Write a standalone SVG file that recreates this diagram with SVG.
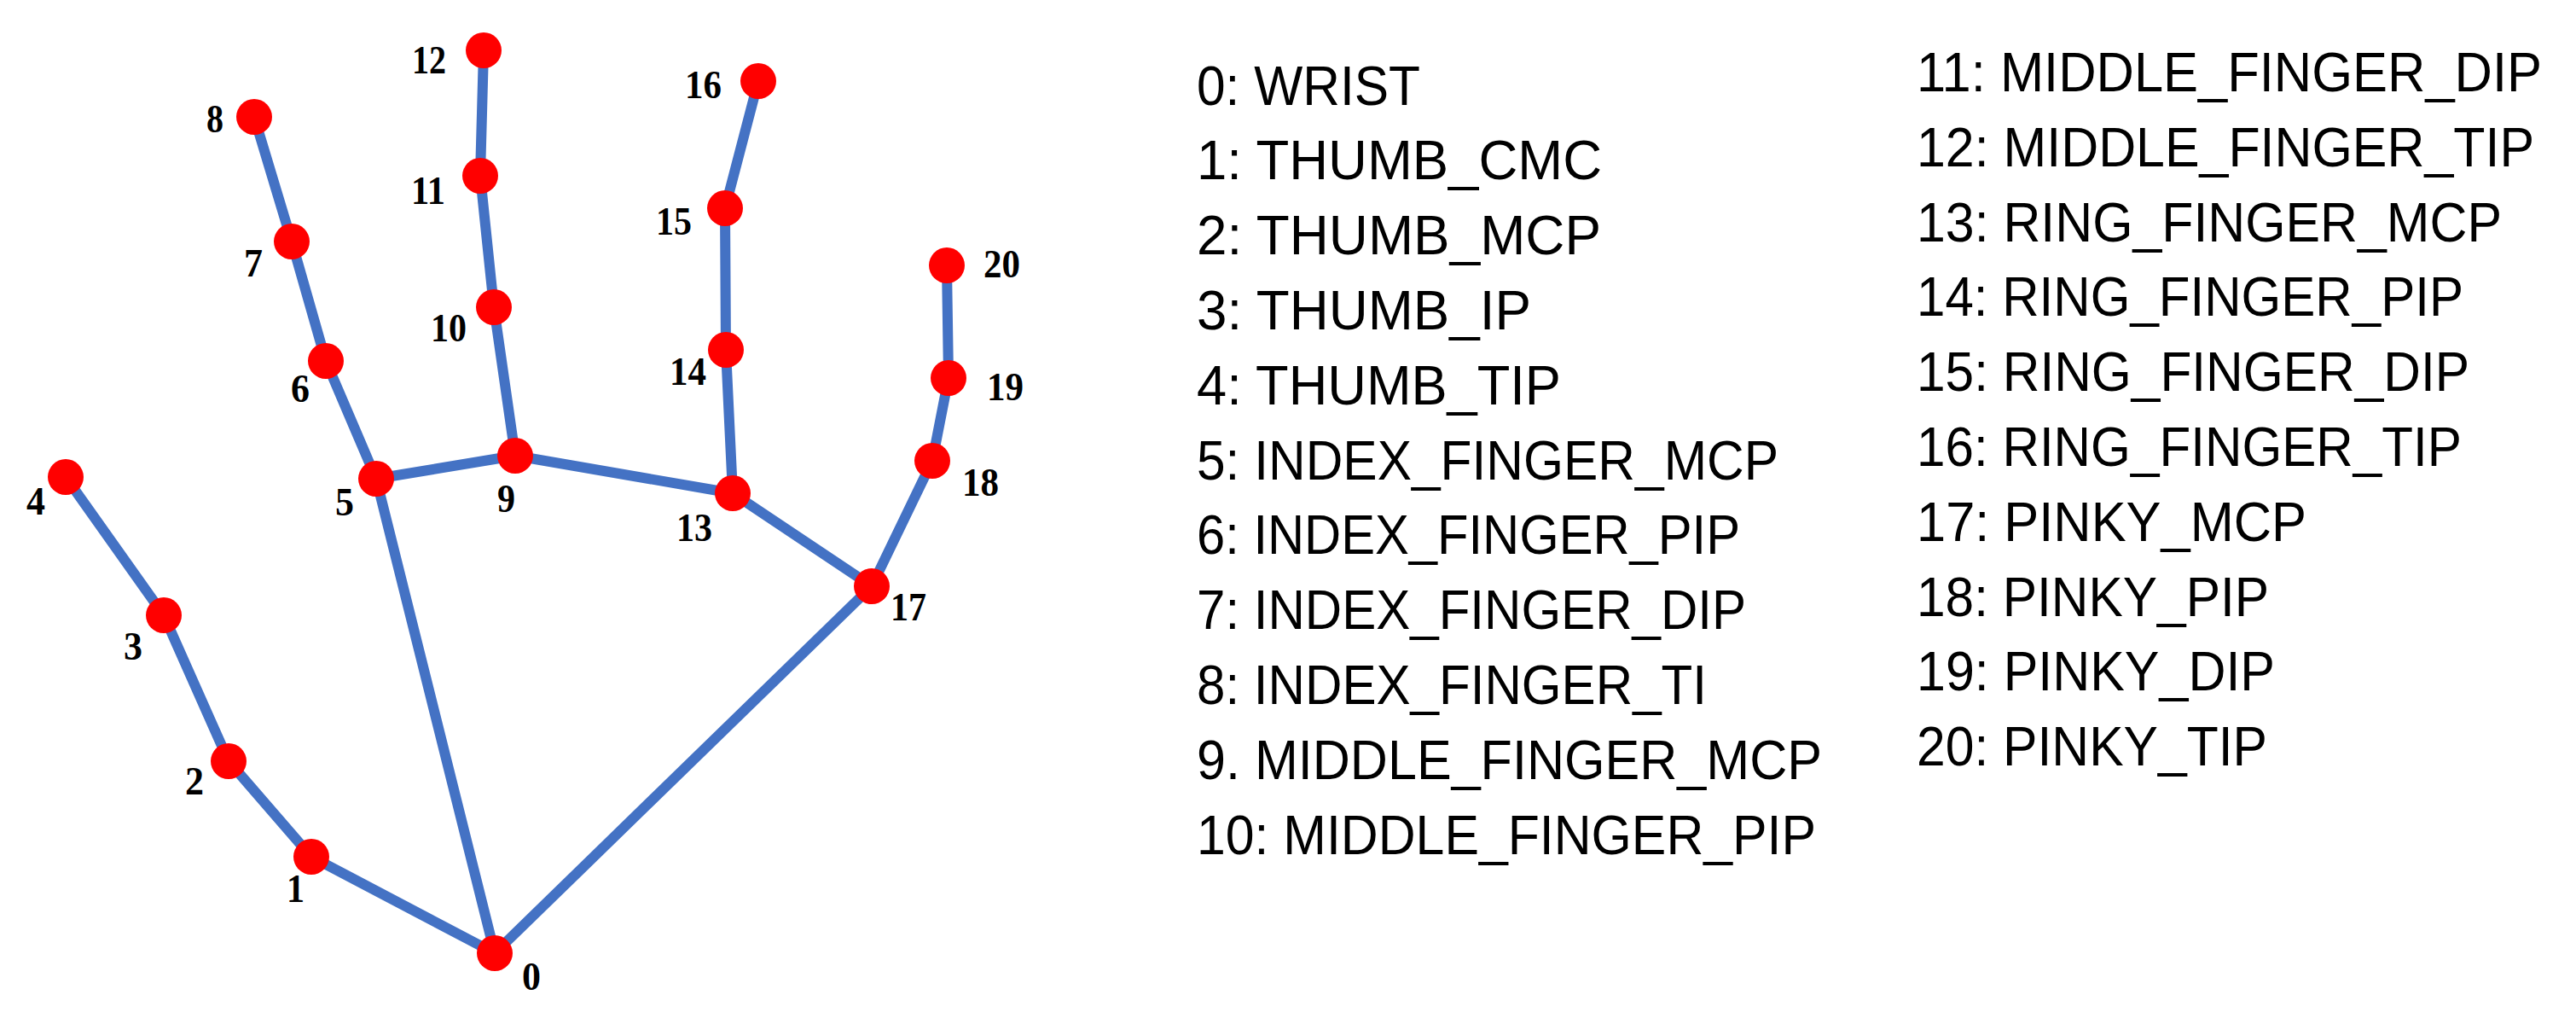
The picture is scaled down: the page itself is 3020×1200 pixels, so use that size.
<svg xmlns="http://www.w3.org/2000/svg" width="3020" height="1200" viewBox="0 0 3020 1200">
<style>
.edge{stroke:#4472C4;stroke-width:12;stroke-linecap:round;fill:none}
.pt{fill:#FF0000}
.num{font-family:"Liberation Serif","Times New Roman",serif;font-weight:bold;font-size:46px;fill:#000}
.leg{font-family:"Liberation Sans",Arial,sans-serif;font-size:65px;fill:#000}
</style>
<rect width="3020" height="1200" fill="#fff"/>
<g id="connectors">
<line class="edge" x1="580" y1="1117" x2="365" y2="1004"/>
<line class="edge" x1="365" y1="1004" x2="268" y2="892"/>
<line class="edge" x1="268" y1="892" x2="192" y2="721"/>
<line class="edge" x1="192" y1="721" x2="77" y2="559"/>
<line class="edge" x1="580" y1="1117" x2="441" y2="561"/>
<line class="edge" x1="441" y1="561" x2="382" y2="423"/>
<line class="edge" x1="382" y1="423" x2="342" y2="283"/>
<line class="edge" x1="342" y1="283" x2="298" y2="137"/>
<line class="edge" x1="441" y1="561" x2="604" y2="534"/>
<line class="edge" x1="604" y1="534" x2="579" y2="360"/>
<line class="edge" x1="579" y1="360" x2="563" y2="206"/>
<line class="edge" x1="563" y1="206" x2="567" y2="59"/>
<line class="edge" x1="604" y1="534" x2="859" y2="578"/>
<line class="edge" x1="859" y1="578" x2="851" y2="410"/>
<line class="edge" x1="851" y1="410" x2="850" y2="244"/>
<line class="edge" x1="850" y1="244" x2="889" y2="95"/>
<line class="edge" x1="859" y1="578" x2="1022" y2="687"/>
<line class="edge" x1="1022" y1="687" x2="1093" y2="540"/>
<line class="edge" x1="1093" y1="540" x2="1112" y2="443"/>
<line class="edge" x1="1112" y1="443" x2="1110" y2="311"/>
<line class="edge" x1="580" y1="1117" x2="1022" y2="687"/>
</g>
<g id="node-0"><circle class="pt" cx="580" cy="1117" r="21"/><text class="num" x="612" y="1160" textLength="22" lengthAdjust="spacingAndGlyphs">0</text></g>
<g id="node-1"><circle class="pt" cx="365" cy="1004" r="21"/><text class="num" x="336" y="1057" textLength="21" lengthAdjust="spacingAndGlyphs">1</text></g>
<g id="node-2"><circle class="pt" cx="268" cy="892" r="21"/><text class="num" x="217" y="931" textLength="22" lengthAdjust="spacingAndGlyphs">2</text></g>
<g id="node-3"><circle class="pt" cx="192" cy="721" r="21"/><text class="num" x="145" y="773" textLength="22" lengthAdjust="spacingAndGlyphs">3</text></g>
<g id="node-4"><circle class="pt" cx="77" cy="559" r="21"/><text class="num" x="31" y="603" textLength="22" lengthAdjust="spacingAndGlyphs">4</text></g>
<g id="node-5"><circle class="pt" cx="441" cy="561" r="21"/><text class="num" x="393" y="604" textLength="22" lengthAdjust="spacingAndGlyphs">5</text></g>
<g id="node-6"><circle class="pt" cx="382" cy="423" r="21"/><text class="num" x="341" y="471" textLength="22" lengthAdjust="spacingAndGlyphs">6</text></g>
<g id="node-7"><circle class="pt" cx="342" cy="283" r="21"/><text class="num" x="286" y="324" textLength="22" lengthAdjust="spacingAndGlyphs">7</text></g>
<g id="node-8"><circle class="pt" cx="298" cy="137" r="21"/><text class="num" x="242" y="155" textLength="20" lengthAdjust="spacingAndGlyphs">8</text></g>
<g id="node-9"><circle class="pt" cx="604" cy="534" r="21"/><text class="num" x="583" y="600" textLength="21" lengthAdjust="spacingAndGlyphs">9</text></g>
<g id="node-10"><circle class="pt" cx="579" cy="360" r="21"/><text class="num" x="505" y="400" textLength="42" lengthAdjust="spacingAndGlyphs">10</text></g>
<g id="node-11"><circle class="pt" cx="563" cy="206" r="21"/><text class="num" x="482" y="239" textLength="40" lengthAdjust="spacingAndGlyphs">11</text></g>
<g id="node-12"><circle class="pt" cx="567" cy="59" r="21"/><text class="num" x="483" y="86" textLength="40" lengthAdjust="spacingAndGlyphs">12</text></g>
<g id="node-13"><circle class="pt" cx="859" cy="578" r="21"/><text class="num" x="793" y="634" textLength="42" lengthAdjust="spacingAndGlyphs">13</text></g>
<g id="node-14"><circle class="pt" cx="851" cy="410" r="21"/><text class="num" x="785" y="451" textLength="43" lengthAdjust="spacingAndGlyphs">14</text></g>
<g id="node-15"><circle class="pt" cx="850" cy="244" r="21"/><text class="num" x="769" y="275" textLength="42" lengthAdjust="spacingAndGlyphs">15</text></g>
<g id="node-16"><circle class="pt" cx="889" cy="95" r="21"/><text class="num" x="803" y="115" textLength="43" lengthAdjust="spacingAndGlyphs">16</text></g>
<g id="node-17"><circle class="pt" cx="1022" cy="687" r="21"/><text class="num" x="1044" y="727" textLength="42" lengthAdjust="spacingAndGlyphs">17</text></g>
<g id="node-18"><circle class="pt" cx="1093" cy="540" r="21"/><text class="num" x="1128" y="581" textLength="43" lengthAdjust="spacingAndGlyphs">18</text></g>
<g id="node-19"><circle class="pt" cx="1112" cy="443" r="21"/><text class="num" x="1157" y="469" textLength="43" lengthAdjust="spacingAndGlyphs">19</text></g>
<g id="node-20"><circle class="pt" cx="1110" cy="311" r="21"/><text class="num" x="1153" y="325" textLength="43" lengthAdjust="spacingAndGlyphs">20</text></g>
<g id="legend-left">
<text class="leg" x="1403" y="122.5" textLength="262" lengthAdjust="spacingAndGlyphs">0: WRIST</text>
<text class="leg" x="1403" y="210.3" textLength="475" lengthAdjust="spacingAndGlyphs">1: THUMB_CMC</text>
<text class="leg" x="1403" y="298.1" textLength="474" lengthAdjust="spacingAndGlyphs">2: THUMB_MCP</text>
<text class="leg" x="1403" y="385.9" textLength="392" lengthAdjust="spacingAndGlyphs">3: THUMB_IP</text>
<text class="leg" x="1403" y="473.7" textLength="427" lengthAdjust="spacingAndGlyphs">4: THUMB_TIP</text>
<text class="leg" x="1403" y="561.5" textLength="682" lengthAdjust="spacingAndGlyphs">5: INDEX_FINGER_MCP</text>
<text class="leg" x="1403" y="649.3" textLength="637" lengthAdjust="spacingAndGlyphs">6: INDEX_FINGER_PIP</text>
<text class="leg" x="1403" y="737.1" textLength="644" lengthAdjust="spacingAndGlyphs">7: INDEX_FINGER_DIP</text>
<text class="leg" x="1403" y="824.9" textLength="598" lengthAdjust="spacingAndGlyphs">8: INDEX_FINGER_TI</text>
<text class="leg" x="1403" y="912.7" textLength="733" lengthAdjust="spacingAndGlyphs">9. MIDDLE_FINGER_MCP</text>
<text class="leg" x="1403" y="1000.5" textLength="726" lengthAdjust="spacingAndGlyphs">10: MIDDLE_FINGER_PIP</text>
</g>
<g id="legend-right">
<text class="leg" x="2247" y="107" textLength="733" lengthAdjust="spacingAndGlyphs">11: MIDDLE_FINGER_DIP</text>
<text class="leg" x="2247" y="194.8" textLength="724" lengthAdjust="spacingAndGlyphs">12: MIDDLE_FINGER_TIP</text>
<text class="leg" x="2247" y="282.6" textLength="686" lengthAdjust="spacingAndGlyphs">13: RING_FINGER_MCP</text>
<text class="leg" x="2247" y="370.4" textLength="641" lengthAdjust="spacingAndGlyphs">14: RING_FINGER_PIP</text>
<text class="leg" x="2247" y="458.2" textLength="648" lengthAdjust="spacingAndGlyphs">15: RING_FINGER_DIP</text>
<text class="leg" x="2247" y="546" textLength="639" lengthAdjust="spacingAndGlyphs">16: RING_FINGER_TIP</text>
<text class="leg" x="2247" y="633.8" textLength="457" lengthAdjust="spacingAndGlyphs">17: PINKY_MCP</text>
<text class="leg" x="2247" y="721.6" textLength="413" lengthAdjust="spacingAndGlyphs">18: PINKY_PIP</text>
<text class="leg" x="2247" y="809.4" textLength="420" lengthAdjust="spacingAndGlyphs">19: PINKY_DIP</text>
<text class="leg" x="2247" y="897.2" textLength="411" lengthAdjust="spacingAndGlyphs">20: PINKY_TIP</text>
</g>
</svg>
